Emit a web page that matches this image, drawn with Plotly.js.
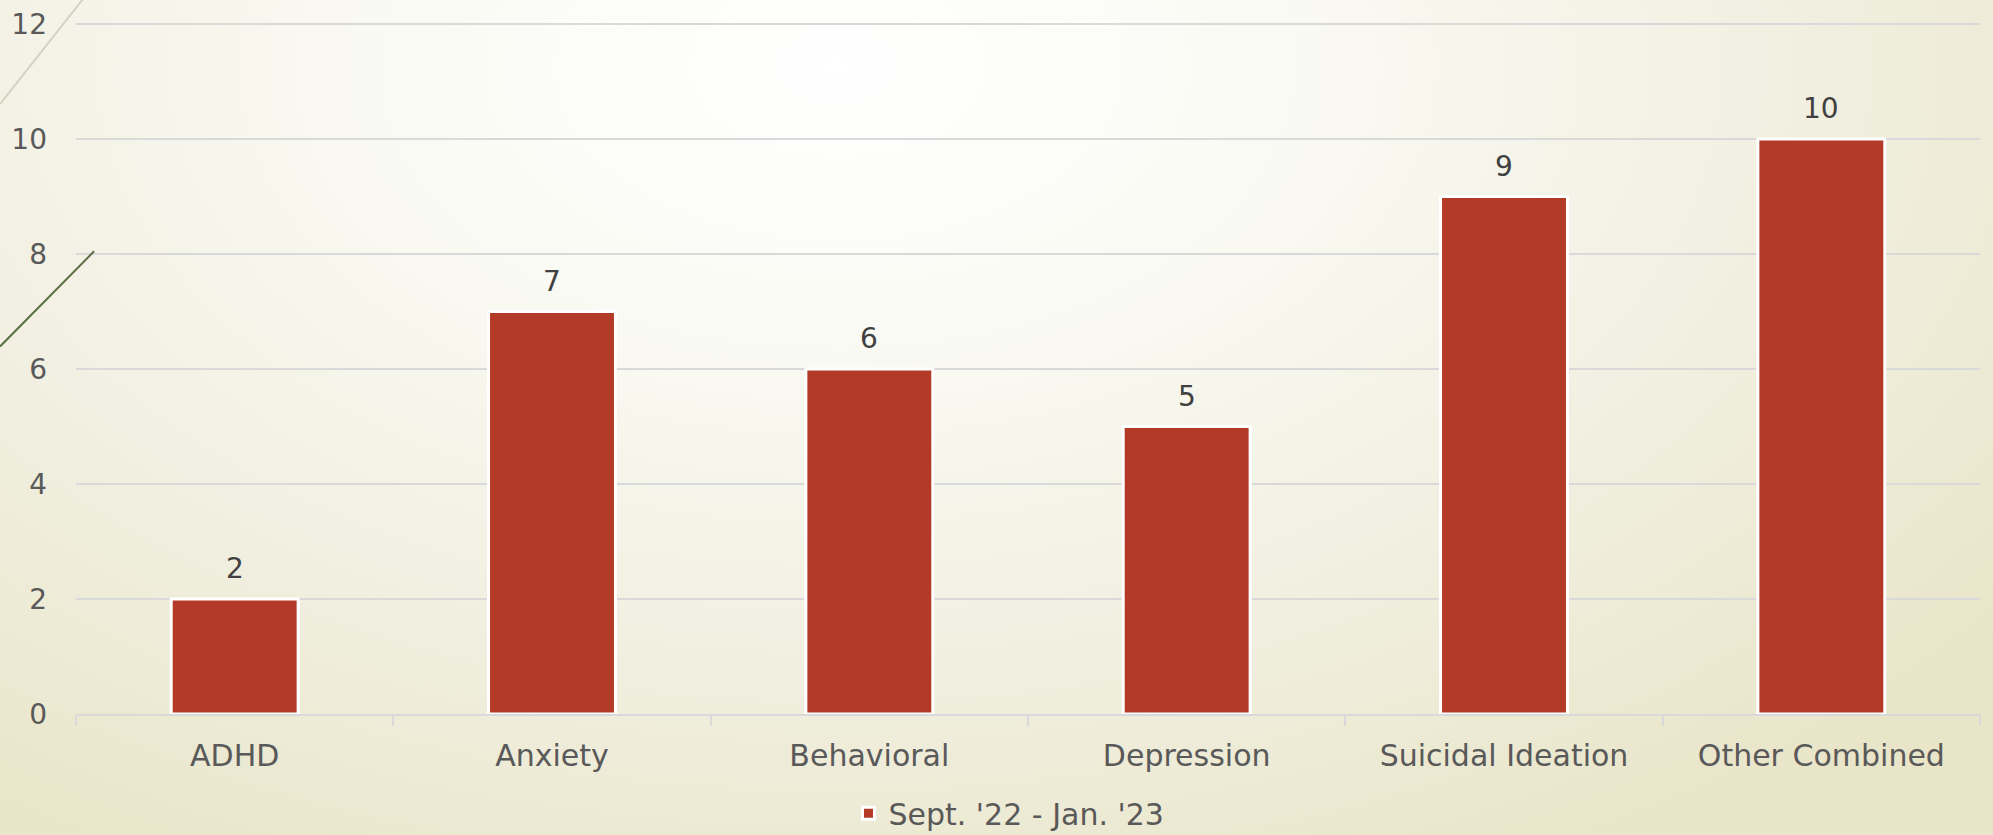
<!DOCTYPE html>
<html>
<head>
<meta charset="utf-8">
<script src="https://cdn.plot.ly/plotly-3.0.1.min.js"></script>
<style>
  html, body { margin: 0; padding: 0; width: 1993px; height: 835px; overflow: hidden; }
  body { background: radial-gradient(ellipse 75% 110% at 42% 8%, #ffffff 0%, #fafaf4 30%, #f1efe0 65%, #e9e5c9 100%); }
  #chart { width: 1993px; height: 835px; }
</style>
</head>
<body>
<div id="chart"></div>
<script>
const categories = ["ADHD", "Anxiety", "Behavioral", "Depression", "Suicidal Ideation", "Other Combined"];
const values = [2, 7, 6, 5, 9, 10];
const seriesName = "Sept. '22 - Jan. '23";
const yTicks = [0, 2, 4, 6, 8, 10, 12];

const FONT = "DejaVu Sans, Lato, sans-serif";

const trace = {
  type: "bar",
  x: categories,
  y: values,
  name: seriesName,
  marker: { color: "#B33A27", line: { color: "#ffffff", width: 3 } },
  hoverinfo: "x+y",
  showlegend: true
};

const annotations = categories.map((c, i) => ({
  x: c, y: values[i], xref: "x", yref: "y",
  text: String(values[i]), showarrow: false,
  yanchor: "bottom", yshift: 12,
  font: { family: FONT, size: 28, color: "#404040" }
}));

const layout = {
  width: 1993, height: 835,
  margin: { l: 76, r: 13, t: 23, b: 121, autoexpand: false },
  paper_bgcolor: "rgba(0,0,0,0)",
  plot_bgcolor: "rgba(0,0,0,0)",
  font: { family: FONT, size: 28, color: "#595959" },
  bargap: 0.6,
  xaxis: {
    type: "category",
    automargin: false,
    showgrid: false,
    showline: true, linecolor: "#D9D9D9", linewidth: 2,
    ticks: "outside", tickson: "boundaries", ticklen: 10, tickcolor: "#D9D9D9", tickwidth: 2,
    ticklabelstandoff: 14,
    tickfont: { family: FONT, size: 30, color: "#595959" },
    zeroline: false, fixedrange: true
  },
  yaxis: {
    range: [0, 12.02],
    automargin: false,
    tickvals: yTicks,
    ticktext: yTicks.map(String),
    showgrid: true, gridcolor: "#D9D9D9", gridwidth: 2,
    zeroline: false, showline: false,
    ticks: "", ticklabelstandoff: 28,
    tickfont: { family: FONT, size: 28, color: "#595959" },
    fixedrange: true
  },
  legend: {
    orientation: "h", x: 0.49, xanchor: "center",
    yref: "container", y: 0.026, yanchor: "middle",
    font: { family: FONT, size: 30, color: "#595959" },
    bgcolor: "rgba(0,0,0,0)"
  },
  annotations: annotations,
  shapes: [
    { type: "line", xref: "paper", yref: "paper", x0: -0.0399, y0: 0.8826, x1: 0.0037, y1: 1.0348,
      line: { color: "#D2D3C0", width: 2 } },
    { type: "line", xref: "paper", yref: "paper", x0: -0.0399, y0: 0.5319, x1: 0.0095, y1: 0.6696,
      line: { color: "#5B6E47", width: 2 } }
  ]
};

Plotly.newPlot("chart", [trace], layout, { displayModeBar: false, staticPlot: true });
</script>
</body>
</html>
